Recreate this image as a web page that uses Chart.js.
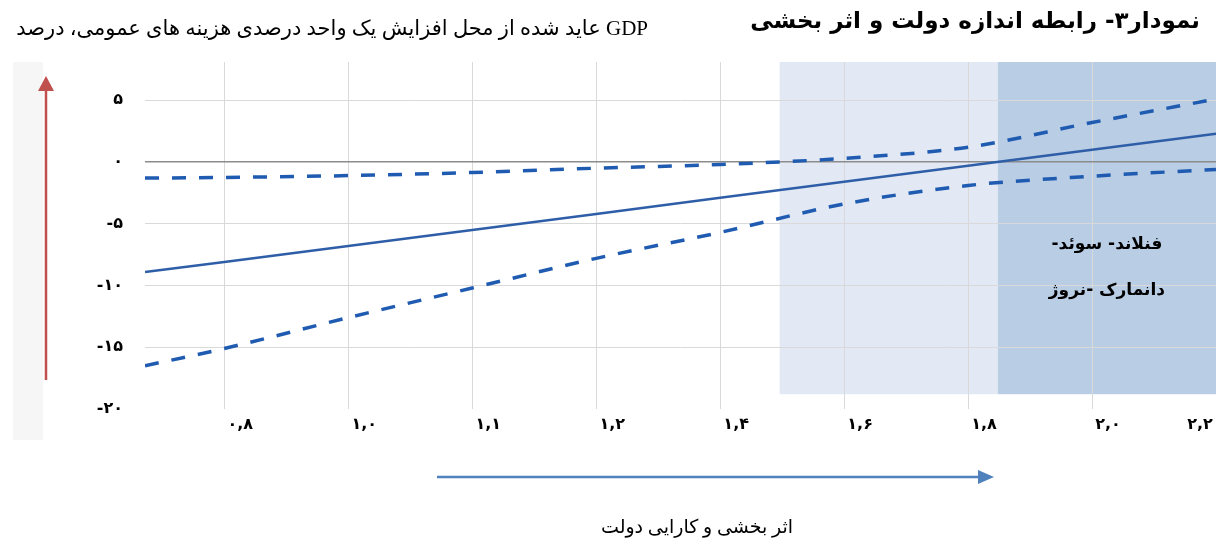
<!DOCTYPE html>
<html lang="fa">
<head>
<meta charset="utf-8">
<script src="https://cdn.jsdelivr.net/npm/chart.js@4.4.1/dist/chart.umd.min.js"></script>
<style>
  html, body { margin: 0; padding: 0; background: #fff; }
  #wrap { position: relative; width: 1216px; height: 544px; overflow: hidden; }
  #chart { position: absolute; left: 0; top: 0; }
  .txt { position: absolute; white-space: nowrap; color: #000; }
  #title { right: 16px; top: 7px; font: bold 23px "DejaVu Sans"; direction: rtl; }
  #header { right: 568px; top: 16px; font: 21px "Liberation Serif", "DejaVu Sans"; direction: rtl; }
  #xtitle { left: 0; width: 1394px; text-align: center; top: 515px; font: 19px "Liberation Serif", "DejaVu Sans"; direction: rtl; }
</style>
</head>
<body>
<div id="wrap">
  <canvas id="chart" width="1216" height="544"></canvas>
  <div class="txt" id="title">نمودار۳- رابطه اندازه دولت و اثر بخشی</div>
  <div class="txt" id="header">GDP عاید شده از محل افزایش یک واحد درصدی هزینه های عمومی، درصد</div>
  <div class="txt" id="xtitle">اثر بخشی و کارایی دولت</div>
</div>
<script>
// برچسب های محور افقی (هر خط شبکه یک برچسب)
const xLabels = ['۰,۸', '۱,۰', '۱,۱', '۱,۲', '۱,۴', '۱,۶', '۱,۸', '۲,۰', '۲,۲'];
// موقعیت نقاط روی محور افقی (شماره خط شبکه)
const xPos = [0.36, 1, 2, 3, 4, 5, 6, 7, 8, 9];
// خط اصلی و باند اطمینان
const effect = [-8.9, -8.1, -6.8, -5.5, -4.2, -2.9, -1.6, -0.3, 1.0, 2.3];
const upperBand = [-1.3, -1.25, -1.1, -0.85, -0.5, -0.2, 0.3, 1.2, 3.2, 5.1];
const lowerBand = [-16.5, -15.1, -12.6, -10.2, -7.8, -5.7, -3.4, -1.9, -1.15, -0.6];
const yTicks = [5, 0, -5, -10, -15, -20];
// نواحی سایه خورده
const midZone = [5.48, 7.24];
const nordicZone = [7.24, 9];
const nordicText = ['فنلاند- سوئد-', 'دانمارک -نروژ'];

function toFa(n) {
    const s = String(Math.abs(n)).replace(/[0-9]/g, d => '۰۱۲۳۴۵۶۷۸۹'[d]);
    return n < 0 ? '-' + s : s;
}

function points(ys) {
    return xPos.map((x, i) => ({ x: x, y: ys[i] }));
}

const zonesPlugin = {
    id: 'zones',
    beforeDraw(chart) {
        const { ctx, chartArea, scales } = chart;
        const xs = scales.x, ys = scales.y;
        const bottom = ys.getPixelForValue(-18.8);
        ctx.save();
        ctx.fillStyle = '#e2e9f4';
        ctx.fillRect(xs.getPixelForValue(midZone[0]), chartArea.top,
            xs.getPixelForValue(midZone[1]) - xs.getPixelForValue(midZone[0]), bottom - chartArea.top);
        ctx.fillStyle = '#b9cde5';
        ctx.fillRect(xs.getPixelForValue(nordicZone[0]), chartArea.top,
            xs.getPixelForValue(nordicZone[1]) - xs.getPixelForValue(nordicZone[0]), bottom - chartArea.top);
        // نوار خاکستری کنار فلش قرمز
        ctx.fillStyle = '#f6f6f6';
        ctx.fillRect(13, chartArea.top, 30, 378);
        ctx.restore();
    },
    afterDraw(chart) {
        const { ctx, scales } = chart;
        const xs = scales.x, ys = scales.y;
        ctx.save();
        // متن کشورها
        ctx.font = 'bold 17px "DejaVu Sans"';
        ctx.fillStyle = '#000';
        ctx.textAlign = 'center';
        ctx.textBaseline = 'middle';
        ctx.direction = 'rtl';
        const cx = (xs.getPixelForValue(nordicZone[0]) + xs.getPixelForValue(nordicZone[1])) / 2;
        ctx.fillText(nordicText[0], cx, ys.getPixelForValue(-6.7));
        ctx.fillText(nordicText[1], cx, ys.getPixelForValue(-10.4));

        // فلش قرمز عمودی
        ctx.strokeStyle = '#c0504d';
        ctx.fillStyle = '#c0504d';
        ctx.lineWidth = 2.5;
        ctx.beginPath();
        ctx.moveTo(46, 380);
        ctx.lineTo(46, 88);
        ctx.stroke();
        ctx.beginPath();
        ctx.moveTo(46, 76);
        ctx.lineTo(38, 91);
        ctx.lineTo(54, 91);
        ctx.closePath();
        ctx.fill();

        // فلش آبی افقی
        ctx.strokeStyle = '#4f81bd';
        ctx.fillStyle = '#4f81bd';
        ctx.lineWidth = 2.5;
        ctx.beginPath();
        ctx.moveTo(437, 477);
        ctx.lineTo(982, 477);
        ctx.stroke();
        ctx.beginPath();
        ctx.moveTo(994, 477);
        ctx.lineTo(978, 470);
        ctx.lineTo(978, 484);
        ctx.closePath();
        ctx.fill();
        ctx.restore();
    }
};

new Chart(document.getElementById('chart'), {
    type: 'line',
    data: {
        datasets: [{
            label: 'اثر',
            data: points(effect),
            borderColor: '#2f5ea8',
            borderWidth: 2.5,
            pointRadius: 0,
        }, {
            label: 'حد بالا',
            data: points(upperBand),
            borderColor: '#1f5bb0',
            borderWidth: 3.5,
            borderDash: [14, 13],
            pointRadius: 0,
            cubicInterpolationMode: 'monotone',
        }, {
            label: 'حد پایین',
            data: points(lowerBand),
            borderColor: '#1f5bb0',
            borderWidth: 3.5,
            borderDash: [14, 13],
            pointRadius: 0,
            cubicInterpolationMode: 'monotone',
        }],
    },
    options: {
        responsive: false,
        animation: false,
        layout: { padding: { top: 62, left: 0, right: 0, bottom: 0 } },
        plugins: {
            legend: { display: false },
            tooltip: { enabled: false },
        },
        scales: {
            x: {
                type: 'linear',
                min: 0.36,
                max: 9,
                afterBuildTicks: (scale) => { scale.ticks = xLabels.map((l, i) => ({ value: i + 1 })); },
                afterFit: (scale) => { scale.height = 135; scale.paddingLeft = 0; scale.paddingRight = 0; },
                grid: { color: '#d9d9d9', drawTicks: false },
                border: { display: false },
                ticks: {
                    padding: 6,
                    labelOffset: 16,
                    color: '#000',
                    font: { family: 'DejaVu Sans', size: 16, weight: 'bold' },
                    maxRotation: 0,
                    autoSkip: false,
                    // آخرین برچسب کمی به چپ برده می شود تا بیرون نزند
                    callback: (v) => xLabels[v - 1] + (v === 9 ? '\u2003\u2003\u2003\u2003' : ''),
                },
            },
            y: {
                min: -20,
                max: 8.1,
                afterBuildTicks: (scale) => { scale.ticks = yTicks.map(v => ({ value: v })); },
                afterFit: (scale) => { scale.width = 145; },
                grid: {
                    drawTicks: false,
                    lineWidth: (c) => c.tick && c.tick.value === 0 ? 1.5 : 1,
                    color: (c) => {
                        if (!c.tick) return '#d9d9d9';
                        if (c.tick.value === 0) return '#8c8c8c';
                        if (c.tick.value === -20) return 'rgba(0,0,0,0)';
                        return '#d9d9d9';
                    },
                },
                border: { display: false },
                ticks: {
                    padding: 22,
                    color: '#000',
                    font: { family: 'DejaVu Sans', size: 16, weight: 'bold' },
                    callback: (v) => toFa(v),
                },
            },
        },
    },
    plugins: [zonesPlugin],
});
</script>
</body>
</html>
